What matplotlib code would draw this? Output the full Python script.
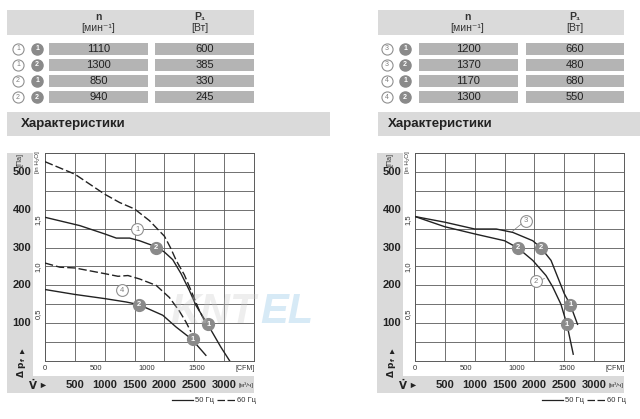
import numpy as np
import matplotlib
matplotlib.use("Agg")
import matplotlib.pyplot as plt
from matplotlib.patches import Rectangle

plt.rcParams['font.family'] = ['Liberation Sans Narrow', 'Liberation Sans', 'DejaVu Sans']

W, H = 640, 419

# table data
left_curve = [1, 1, 2, 2]
left_point = [1, 2, 1, 2]
left_n = [1110, 1300, 850, 940]
left_p = [600, 385, 330, 245]
right_curve = [3, 3, 4, 4]
right_point = [1, 2, 1, 2]
right_n = [1200, 1370, 1170, 1300]
right_p = [660, 480, 680, 550]

# curves, x in m3/h, y in Pa
A_x = [0, 500, 1000, 1250, 1500, 1750, 2000, 2100, 2200, 2333, 2444, 2583, 2667]
A_y = [527, 494, 441, 419, 402, 371, 330, 300, 265, 228, 187, 134, 108]
B_x = [0, 583, 1000, 1194, 1417, 1583, 1861, 2000, 2139, 2278, 2417, 2528, 2750, 2944, 3094]
B_y = [380, 358, 336, 325, 325, 318, 302, 288, 268, 231, 187, 147, 90, 37, 0]
C_x = [0, 250, 500, 1000, 1222, 1389, 1583, 1861, 2083, 2250, 2361, 2444]
C_y = [259, 248, 246, 231, 224, 226, 217, 200, 168, 132, 103, 77]
D_x = [0, 500, 1000, 1361, 1572, 1972, 2194, 2389, 2472, 2639, 2694]
D_y = [189, 176, 165, 156, 149, 121, 90, 66, 55, 25, 15]
R3_x = [0, 500, 1000, 1361, 1639, 1972, 2111, 2278, 2389, 2500, 2600, 2722]
R3_y = [382, 367, 349, 349, 340, 318, 299, 266, 222, 178, 149, 97]
R2_x = [0, 500, 1000, 1083, 1500, 1722, 1972, 2194, 2306, 2444, 2544, 2650]
R2_y = [382, 355, 336, 333, 318, 299, 266, 226, 196, 150, 97, 18]

pa_ticks = [100, 200, 300, 400, 500]
inch_ticks = [0.5, 1.0, 1.5]
inch_labels = ['0,5', '1,0', '1,5']
cfm_ticks = [0, 500, 1000, 1500]
m3h_ticks = [500, 1000, 1500, 2000, 2500, 3000]

GREY_BAND = '#dadada'
CELL = '#b4b4b4'
MARK = '#8a8a8a'
LINE = '#222222'
DASH = (0, (6, 2.2))

fig = plt.figure(figsize=(W / 100, H / 100), dpi=100)
bg = fig.add_axes([0, 0, 1, 1])
bg.set_xlim(0, W)
bg.set_ylim(H, 0)
bg.axis('off')


def rect(x, y, w, h, c):
    bg.add_patch(Rectangle((x, y), w, h, facecolor=c, edgecolor='none'))


def badge(ax, x, y, num, filled, fs=5.5, ms=8.5):
    if filled:
        ax.plot(x, y, 'o', ms=ms, mfc=MARK, mec=MARK, zorder=6, clip_on=False)
        ax.text(x, y, str(num), ha='center', va='center', fontsize=fs, color='white',
                fontweight='bold', zorder=7)
    else:
        ax.plot(x, y, 'o', ms=ms, mfc='white', mec='#909090', mew=0.8, zorder=6, clip_on=False)
        ax.text(x, y, str(num), ha='center', va='center', fontsize=fs, color='#808080',
                zorder=7)


def table(x0, x1, nx, px, cnx, cpx, ox, fx, curves, points, ns, ps):
    rect(x0, 10, x1 - x0, 25, GREY_BAND)
    bg.text(nx, 17, 'n', ha='center', va='center', fontsize=7.5, fontweight='bold', color='#333')
    bg.text(nx, 28, '[мин⁻¹]', ha='center', va='center', fontsize=7.5, color='#333')
    bg.text(px, 17, 'P₁', ha='center', va='center', fontsize=7.5, fontweight='bold', color='#333')
    bg.text(px, 28, '[Вт]', ha='center', va='center', fontsize=7.5, color='#333')
    for i in range(len(ns)):
        yc = 49 + 16 * i
        rect(cnx[0], yc - 6, cnx[1] - cnx[0], 12, CELL)
        rect(cpx[0], yc - 6, cpx[1] - cpx[0], 12, CELL)
        bg.text((cnx[0] + cnx[1]) / 2, yc, str(ns[i]), ha='center', va='center', fontsize=8, color='#222')
        bg.text((cpx[0] + cpx[1]) / 2, yc, str(ps[i]), ha='center', va='center', fontsize=8, color='#222')
        badge(bg, ox, yc, curves[i], False, fs=5, ms=8)
        badge(bg, fx, yc, points[i], True, fs=5, ms=8)


table(7, 254, 98, 200, (49, 148), (155, 254), 18, 37, left_curve, left_point, left_n, left_p)
table(378, 624, 467, 575, (419, 518), (526, 624), 387, 405, right_curve, right_point, right_n, right_p)

# "Характеристики" bands
rect(7, 112, 323, 24, GREY_BAND)
rect(378, 112, 262, 24, GREY_BAND)
bg.text(21, 124, 'Характеристики', ha='left', va='center', fontsize=9.5, fontweight='bold', color='#222')
bg.text(388, 124, 'Характеристики', ha='left', va='center', fontsize=9.5, fontweight='bold', color='#222')


def chart(x0, curves, labels):
    # grey side band and bottom strip
    rect(x0 - 38, 153, 26, 240, GREY_BAND)
    rect(x0 - 38, 376, 247, 17, GREY_BAND)
    ax = fig.add_axes([x0 / W, 1 - 361 / H, 209 / W, 208 / H])
    ax.set_xlim(0, 3500)
    ax.set_ylim(0, 550)
    ax.set_xticks(np.arange(0, 3501, 500))
    ax.set_yticks(np.arange(0, 551, 50))
    ax.grid(True, color='#5a5a5a', lw=0.6)
    ax.tick_params(length=0, labelbottom=False, labelleft=False)
    for s in ax.spines.values():
        s.set_color('#5a5a5a')
        s.set_linewidth(0.7)
    for cx, cy, dashed in curves:
        ax.plot(cx, cy, color=LINE, lw=1.0, ls=DASH if dashed else '-', zorder=4)
    for lx, ly, num, filled in labels:
        badge(ax, lx, ly, num, filled)
    ty = ax.get_yaxis_transform()
    tx = ax.get_xaxis_transform()
    for v in pa_ticks:
        ax.text(-0.11, v, str(v), transform=ty, ha='center', va='center', fontsize=8,
                fontweight='bold', color='#222')
    for v, s in zip(inch_ticks, inch_labels):
        ax.text(-0.033, v * 249.09, s, transform=ty, ha='center', va='center', fontsize=5.5,
                rotation=90, color='#333')
    for v in cfm_ticks:
        ax.text(v * 1.699, -0.034, str(v), transform=tx, ha='center', va='center', fontsize=5.5,
                color='#333')
    for v in m3h_ticks:
        ax.text(v, -0.115, str(v), transform=tx, ha='center', va='center', fontsize=8,
                fontweight='bold', color='#222')
    ax.text(0.957, -0.034, '[CFM]', transform=ax.transAxes, ha='center', va='center', fontsize=5, color='#333')
    ax.text(0.962, -0.115, '[м³/ч]', transform=ax.transAxes, ha='center', va='center', fontsize=4.5, color='#333')
    # axis names
    bg.text(x0 - 25, 159, '[Па]', rotation=90, ha='center', va='center', fontsize=5, color='#333')
    bg.text(x0 - 7, 162, '[in H₂O]', rotation=90, ha='center', va='center', fontsize=4.5, color='#333')
    bg.text(x0 - 24, 352, '▲', ha='center', va='center', fontsize=6, color='#222')
    bg.text(x0 - 24, 367, r'$\mathbf{\Delta\ p_f}$', rotation=90, ha='center', va='center', fontsize=6.5, color='#222')
    bg.text(x0 - 12, 385, r'$\mathbf{\dot{V}}$', ha='center', va='center', fontsize=7.5, color='#222')
    bg.text(x0 - 2, 385, '►', ha='center', va='center', fontsize=6.5, color='#222')
    # legend
    bg.plot([x0 + 127, x0 + 148], [400, 400], color=LINE, lw=0.9)
    bg.text(x0 + 150, 400, '50 Гц', ha='left', va='center', fontsize=5.5, color='#333')
    bg.plot([x0 + 172, x0 + 190], [400, 400], color=LINE, lw=0.9, ls=(0, (6, 2)))
    bg.text(x0 + 192, 400, '60 Гц', ha='left', va='center', fontsize=5.5, color='#333')
    return ax


axL = chart(45,
            [(A_x, A_y, True), (B_x, B_y, False), (C_x, C_y, True), (D_x, D_y, False)],
            [(1545, 349, 1, False), (1862, 299, 2, True), (1295, 187, 4, False),
             (1572, 149, 2, True), (2472, 57, 1, True), (2738, 97, 1, True)])
axR = chart(415,
            [(R3_x, R3_y, False), (R2_x, R2_y, False)],
            [(1862, 371, 3, False), (2111, 299, 2, True), (1722, 299, 2, True),
             (2028, 211, 2, False), (2600, 149, 1, True), (2544, 97, 1, True)])
axR.plot([1633, 1800], [343, 365], color='#777', lw=0.5, zorder=3)
axR.plot([2167, 2080], [218, 213], color='#777', lw=0.5, zorder=3)

# watermark
fig.text(170 / W, 1 - 312 / H, 'KNT', fontsize=30, fontstyle='italic', fontweight='bold',
         color='#c8c8c8', alpha=0.3, va='center', ha='left', zorder=10)
fig.text(260 / W, 1 - 312 / H, 'EL', fontsize=30, fontstyle='italic', fontweight='bold',
         color='#8fc3e6', alpha=0.35, va='center', ha='left', zorder=10)

fig.savefig('out.png', dpi=100)
